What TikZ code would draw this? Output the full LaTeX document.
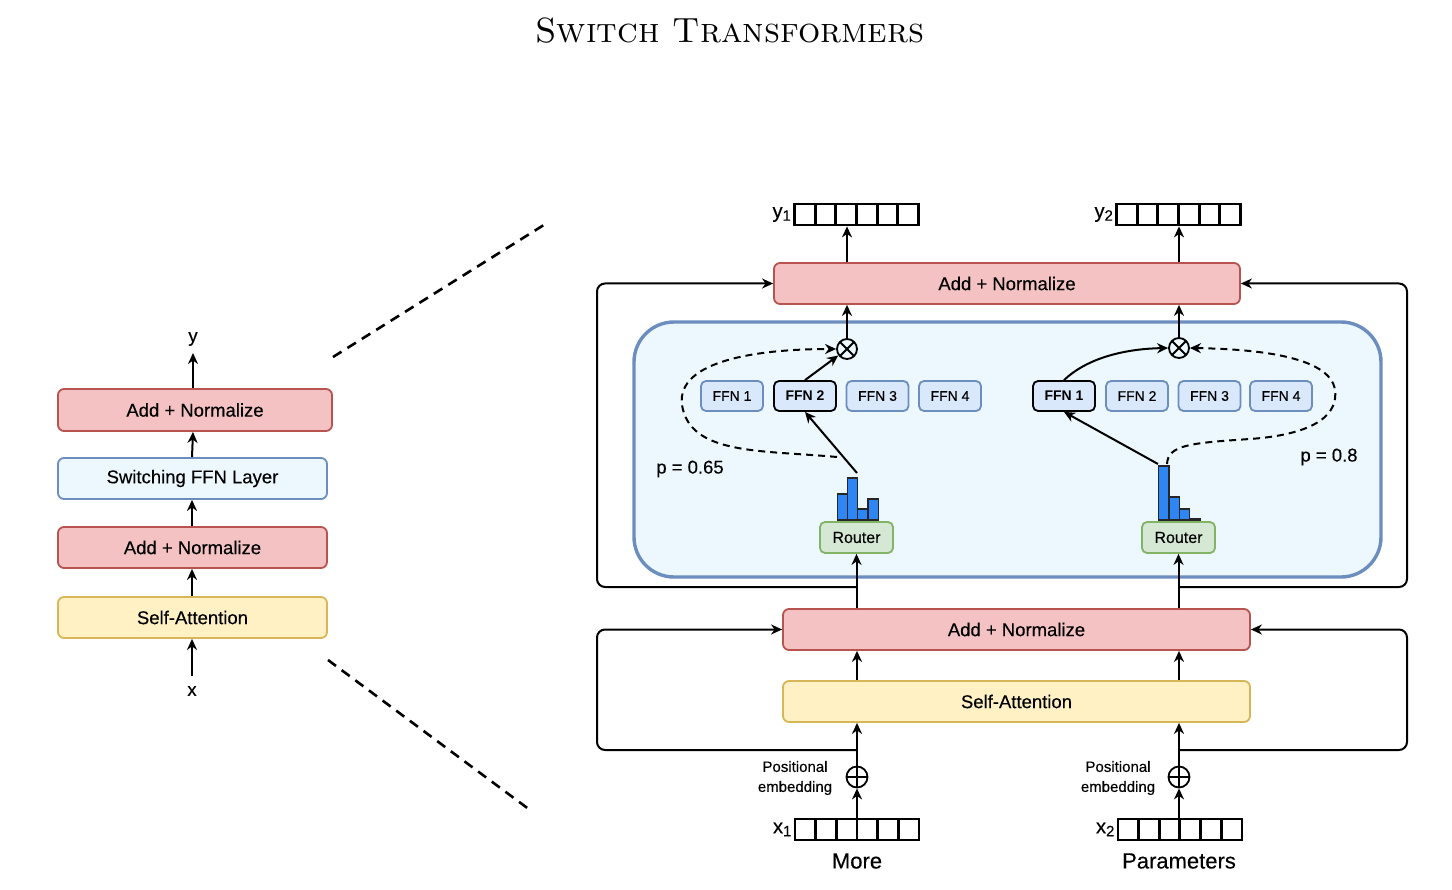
\documentclass[tikz,border=0pt]{standalone}
\usepackage{fontspec}
\newfontfamily\hv{Liberation Sans}[UprightFeatures={FakeBold=0.3}]
\usetikzlibrary{arrows.meta,calc}

\definecolor{anfill}{HTML}{F4C2C2}
\definecolor{anline}{HTML}{B85450}
\definecolor{safill}{HTML}{FFF1C4}
\definecolor{saline}{HTML}{D6B656}
\definecolor{swfill}{HTML}{EDF8FE}
\definecolor{swline}{HTML}{6C8EBF}
\definecolor{ffnfill}{HTML}{DAE8FC}
\definecolor{rtfill}{HTML}{D5E8D4}
\definecolor{rtline}{HTML}{82B366}
\definecolor{barfill}{HTML}{2E86F5}

\newcommand{\vlabel}[2]{{\fontsize{20}{20}\selectfont #1}\raisebox{-3pt}{\fontsize{15}{15}\selectfont #2}}

\begin{document}
\begin{tikzpicture}[x=1pt,y=-1pt,
  box/.style={draw, rounded corners=6pt, line width=1.8pt, inner sep=0pt, font=\hv\fontsize{18.5}{20}\selectfont},
  anbox/.style={box, fill=anfill, draw=anline},
  sabox/.style={box, fill=safill, draw=saline},
  swbox/.style={box, fill=swfill, draw=swline},
  ffn/.style={draw=swline, fill=ffnfill, rounded corners=5pt, line width=1.8pt, minimum width=62pt, minimum height=30pt, inner sep=0pt, font=\hv\fontsize{14}{16}\selectfont},
  ffnsel/.style={ffn, draw=black, font=\hv\bfseries\fontsize{14}{16}\selectfont},
  router/.style={draw=rtline, fill=rtfill, rounded corners=5pt, line width=1.8pt, minimum width=73pt, minimum height=31pt, inner sep=0pt, font=\hv\fontsize{16}{18}\selectfont},
  lbl/.style={font=\hv\fontsize{18.5}{20}\selectfont, inner sep=2pt},
  arr/.style={line width=2pt, -{Stealth[length=11pt, width=10pt, inset=3.5pt]}},
  darr/.style={arr, dash pattern=on 7pt off 5pt},
  vec/.style={draw, line width=2.8pt, minimum width=124pt, minimum height=21pt, inner sep=0pt,
    path picture={\foreach \i in {1,...,5}{\draw[line width=2.8pt]
      ($(path picture bounding box.south west)!\i/6!(path picture bounding box.south east)$) -- ++(0,30pt);}}},
  otimes/.style={circle, draw, line width=1.8pt, minimum size=20pt, inner sep=0pt,
    path picture={\draw[line width=1.8pt] (path picture bounding box.north west) -- (path picture bounding box.south east)
      (path picture bounding box.north east) -- (path picture bounding box.south west);}},
  oplus/.style={circle, draw, line width=1.8pt, minimum size=21pt, inner sep=0pt,
    path picture={\draw[line width=1.8pt] (path picture bounding box.north) -- (path picture bounding box.south)
      (path picture bounding box.east) -- (path picture bounding box.west);}},
  bar/.style={fill=barfill, draw=black!85, line width=1.3pt},
  zoomline/.style={line width=2.6pt, dash pattern=on 10pt off 7pt}
]
\useasboundingbox (0,0) rectangle (1452,890);

% title
\node (title) at (730,31) {\fontsize{35}{40}\selectfont\textsc{Switch Transformers}};

% ---------- compact encoder block ----------
\node[anbox, minimum width=274pt, minimum height=42pt] (anL2) at (195,410) {Add + Normalize};
\node[swbox, minimum width=269pt, minimum height=41pt] (swL) at (192.5,478.5) {Switching FFN Layer};
\node[anbox, minimum width=269pt, minimum height=41pt] (anL1) at (192.5,547.5) {Add + Normalize};
\node[sabox, minimum width=269pt, minimum height=41pt] (saL) at (192.5,617.5) {Self-Attention};
\node[lbl] (yL) at (193,339) {y};
\node[lbl] (xL) at (192,691) {x};

\draw[arr, shorten <=8pt] (xL) -- (saL.south -| xL);
\draw[arr] (saL.north -| xL) -- (anL1.south -| xL);
\draw[arr] (anL1.north -| xL) -- (swL.south -| xL);
\draw[arr] (swL.north -| xL) -- (anL2.south -| yL);
\draw[arr, shorten >=5pt] (anL2.north -| yL) -- (yL);

% zoom guides
\coordinate (zA1) at (333,357);
\coordinate (zA2) at (547,223);
\coordinate (zB1) at (328,660);
\coordinate (zB2) at (530,810);
\draw[zoomline] (zA1) -- (zA2);
\draw[zoomline] (zB1) -- (zB2);

% ---------- expanded layer ----------
\draw[draw=swline, fill=swfill, line width=3.4pt, rounded corners=40pt] (634,322) rectangle (1381,577);

% outputs
\node[vec] (y1v) at (856.5,214.5) {};
\node[vec] (y2v) at (1178.5,214.5) {};
\node[lbl, anchor=east] (y1l) at (y1v.west) {\vlabel{y}{1}};
\node[lbl, anchor=east] (y2l) at (y2v.west) {\vlabel{y}{2}};

\node[anbox, minimum width=466pt, minimum height=41pt] (an3) at (1007,283.5) {Add + Normalize};

\node[otimes] (ot1) at (847,349) {};
\node[otimes] (ot2) at (1179,348) {};

% experts, token 1
\node[ffn] (f11) at (732,396) {FFN 1};
\node[ffnsel] (f12) at (805,396) {FFN 2};
\node[ffn] (f13) at (877.5,396) {FFN 3};
\node[ffn] (f14) at (950,396) {FFN 4};
% experts, token 2
\node[ffnsel] (f21) at (1064,396) {FFN 1};
\node[ffn] (f22) at (1137,396) {FFN 2};
\node[ffn] (f23) at (1209.5,396) {FFN 3};
\node[ffn] (f24) at (1281,396) {FFN 4};

\node[router] (rt1) at (856.5,537.5) {Router};
\node[router] (rt2) at (1178.5,537.5) {Router};

% router probabilities
\draw[bar] (837.3,520) rectangle (847.5,494);
\draw[bar] (847.5,520) rectangle (857.7,478);
\draw[bar] (857.7,520) rectangle (867.9,509);
\draw[bar] (867.9,520) rectangle (878.2,499);
\draw[bar] (1158.3,520) rectangle (1169,466);
\draw[bar] (1169,520) rectangle (1179.3,497);
\draw[bar] (1179.3,520) rectangle (1189.4,509);
\draw[bar] (1189.4,520) rectangle (1200,518.5);

\node[lbl] (p1) at (690,469) {p = 0.65};
\node[lbl] (p2) at (1329,457) {p = 0.8};

% routing, token 1
\coordinate (h1s) at (857,473);
\coordinate (h1d) at (837,457);
\draw[arr] (h1s) -- (f12.south);
\draw[arr] (f12.north) -- (ot1);
\draw[darr] (h1d) .. controls (760,450) and (690,455) .. (682,405)
  .. controls (676,360) and (760,349) .. (ot1.west);

% routing, token 2
\coordinate (h2s) at (1158,464);
\coordinate (h2d) at (1167,464);
\draw[arr] (h2s) -- (f21.south);
\draw[arr] (f21.north) .. controls (1085,360) and (1120,349) .. (ot2.west);
\draw[darr] (h2d) .. controls (1168,445) and (1190,443) .. (1250,439)
  .. controls (1320,434) and (1338,412) .. (1335,390)
  .. controls (1330,355) and (1250,349) .. (ot2.east);

\draw[arr] (ot1.north) -- (an3.south -| ot1);
\draw[arr] (ot2.north) -- (an3.south -| ot2);
\draw[arr] (an3.north -| ot1) -- (y1v.south -| ot1);
\draw[arr] (an3.north -| ot2) -- (y2v.south -| ot2);

% attention sublayer
\node[anbox, minimum width=467pt, minimum height=41pt] (an2) at (1016.5,629.5) {Add + Normalize};
\node[sabox, minimum width=467pt, minimum height=41pt] (sa) at (1016.5,701.5) {Self-Attention};

\node[oplus] (op1) at (857,777) {};
\node[oplus] (op2) at (1179,777) {};

\node[vec] (x1v) at (857,829.5) {};
\node[vec] (x2v) at (1180,829.5) {};
\node[lbl, anchor=east] (x1l) at (x1v.west) {\vlabel{x}{1}};
\node[lbl, anchor=east] (x2l) at (x2v.west) {\vlabel{x}{2}};
\node[font=\hv\fontsize{22}{24}\selectfont] (w1) at (857,861) {More};
\node[font=\hv\fontsize{22}{24}\selectfont] (w2) at (1179,861) {Parameters};
\node[font=\hv\fontsize{15}{20}\selectfont, align=center] (pe1) at (795,778) {Positional\\embedding};
\node[font=\hv\fontsize{15}{20}\selectfont, align=center] (pe2) at (1118,778) {Positional\\embedding};

\draw[arr] (x1v.south -| op1) -- (op1.south);
\draw[arr] (x2v.south -| op2) -- (op2.south);
\draw[arr] (op1.north) -- (sa.south -| op1);
\draw[arr] (op2.north) -- (sa.south -| op2);
\draw[arr] (sa.north -| op1) -- (an2.south -| op1);
\draw[arr] (sa.north -| op2) -- (an2.south -| op2);
\draw[arr] (an2.north -| rt1) -- (rt1.south);
\draw[arr] (an2.north -| rt2) -- (rt2.south);

% residual connections
\coordinate (loopL) at (597,0);
\coordinate (loopR) at (1407,0);
\coordinate (b1L) at (856.5,587);
\coordinate (b1R) at (1178.5,587);
\coordinate (b2L) at (857,750);
\coordinate (b2R) at (1179,750);
\draw[arr, rounded corners=8pt] (b1L) -| (loopL |- an3.west) -- (an3.west);
\draw[arr, rounded corners=8pt] (b1R) -| (loopR |- an3.east) -- (an3.east);
\draw[arr, rounded corners=8pt] (b2L) -| (loopL |- an2.west) -- (an2.west);
\draw[arr, rounded corners=8pt] (b2R) -| (loopR |- an2.east) -- (an2.east);

\end{tikzpicture}
\end{document}
